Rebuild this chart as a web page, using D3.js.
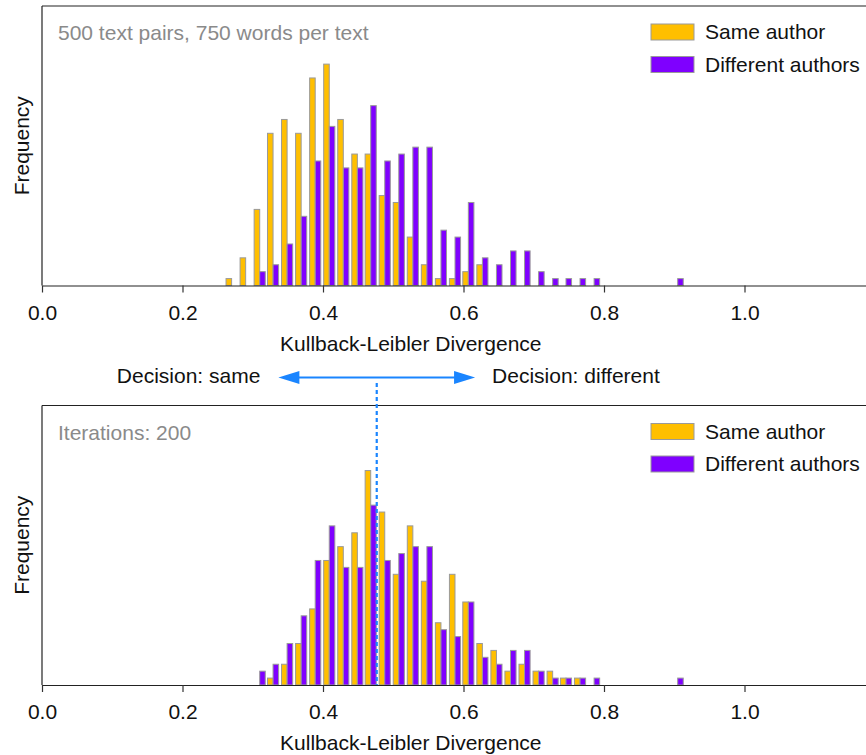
<!DOCTYPE html>
<html>
<head>
<meta charset="utf-8">
<script src="https://cdn.jsdelivr.net/npm/d3@7"></script>
<style>
  body { margin: 0; background: #fff; }
  text { font-family: "Liberation Sans", Arial, Helvetica, sans-serif; }
</style>
</head>
<body>
<div id="chart"></div>
<script>
// bin starts
const bins = [0.260, 0.280, 0.300, 0.319, 0.339, 0.359, 0.379, 0.399, 0.419, 0.439, 0.458,
              0.478, 0.498, 0.518, 0.538, 0.558, 0.578, 0.597, 0.617, 0.637, 0.657, 0.677,
              0.697, 0.717, 0.736, 0.756, 0.776, 0.796, 0.816, 0.836, 0.856, 0.875, 0.895];

const topSame    = [1, 4, 11, 22, 24, 22, 30, 32, 24, 19, 19, 13, 12, 7, 3, 1, 1, 2, 3,
                    0, 0, 0, 0, 0, 0, 0, 0, 0, 0, 0, 0, 0, 0];
const topDiff    = [0, 0, 2, 3, 6, 10, 18, 23, 17, 17, 26, 18, 19, 20, 20, 8, 7, 12, 4,
                    3, 5, 5, 2, 1, 1, 1, 1, 0, 0, 0, 0, 0, 1];
const bottomSame = [0, 0, 0, 1, 3, 6, 11, 18, 20, 22, 31, 25, 16, 23, 15, 9, 16, 12, 6,
                    5, 2, 3, 2, 2, 1, 1, 0, 0, 0, 0, 0, 0, 0];
const bottomDiff = [0, 0, 2, 3, 6, 10, 18, 23, 17, 17, 26, 18, 19, 20, 20, 8, 7, 12, 4,
                    3, 5, 5, 2, 1, 1, 1, 1, 0, 0, 0, 0, 0, 1];

const xTicks = [0.0, 0.2, 0.4, 0.6, 0.8, 1.0];
const seriesNames = ["Same author", "Different authors"];
const panelNotes = ["500 text pairs, 750 words per text", "Iterations: 200"];
const threshold = 0.4765;   // decision boundary
const arrowSpan = 0.14;
const binWidth = 0.0198;

const width = 866, height = 755;
const fontSize = 21;
const colors = ["#ffbf00", "#7f00ff"];
const edge = "#9a9a9a";
const blue = "#1a85ff";

const svg = d3.select("#chart")
    .append("svg")
    .attr("width", width)
    .attr("height", height);

const x = d3.scaleLinear()
    .domain([0, 1.2])
    .range([42, 885]);

function drawPanel(top, same, diff, note) {
    const plotH = 279.5;
    const y = d3.scaleLinear()
        .domain([0, 40.4])
        .range([top + plotH, top]);

    const g = svg.append("g");

    // bars, two series side by side in each bin
    [same, diff].forEach(function (vals, s) {
        const rows = bins.map((b, i) => ({ b: b, v: vals[i] })).filter(d => d.v > 0);
        g.selectAll(null)
            .data(rows)
            .enter()
            .append("rect")
            .attr("x", d => x(d.b + binWidth * (0.1 + 0.4 * s)))
            .attr("width", x(binWidth * 0.4) - x(0))
            .attr("y", d => y(d.v))
            .attr("height", d => y(0) - y(d.v))
            .attr("fill", colors[s])
            .attr("stroke", edge)
            .attr("stroke-width", 1);
    });

    // frame: left and top spines
    g.append("line")
        .attr("x1", x(0)).attr("x2", x(0))
        .attr("y1", y(40.4)).attr("y2", y(0))
        .attr("stroke", "#222").attr("stroke-width", 1.2);
    g.append("line")
        .attr("x1", x(0)).attr("x2", x(1.2))
        .attr("y1", y(40.4)).attr("y2", y(40.4))
        .attr("stroke", "#222").attr("stroke-width", 1.2);

    // x axis
    const axis = d3.axisBottom(x)
        .tickValues(xTicks)
        .tickFormat(d3.format(".1f"))
        .tickSize(7)
        .tickSizeOuter(0)
        .tickPadding(12.5);
    const ag = g.append("g")
        .attr("transform", "translate(0," + y(0) + ")")
        .call(axis);
    ag.select(".domain").attr("stroke", "#222").attr("stroke-width", 1.2);
    ag.selectAll(".tick line").attr("stroke", "#333").attr("stroke-width", 1.2);
    ag.selectAll(".tick text")
        .attr("font-size", fontSize)
        .attr("font-family", "Liberation Sans, Arial, sans-serif")
        .attr("fill", "#111");

    g.append("text")
        .attr("x", x(0.525))
        .attr("y", y(0) + 65)
        .attr("text-anchor", "middle")
        .attr("font-size", fontSize)
        .attr("fill", "#111")
        .text("Kullback-Leibler Divergence");

    g.append("text")
        .attr("transform", "translate(21," + (top + plotH / 2) + ") rotate(-90)")
        .attr("text-anchor", "middle")
        .attr("dominant-baseline", "central")
        .attr("font-size", fontSize)
        .attr("fill", "#111")
        .text("Frequency");

    // note in top-left corner
    g.append("text")
        .attr("x", 58)
        .attr("y", top + 34)
        .attr("font-size", fontSize)
        .attr("fill", "#8a8a8a")
        .text(note);

    // legend
    seriesNames.forEach(function (name, s) {
        g.append("rect")
            .attr("x", 651)
            .attr("y", top + 18 + s * 32.5)
            .attr("width", 43)
            .attr("height", 16)
            .attr("fill", colors[s])
            .attr("stroke", edge)
            .attr("stroke-width", 1);
        g.append("text")
            .attr("x", 705)
            .attr("y", top + 33 + s * 32.5)
            .attr("font-size", fontSize)
            .attr("fill", "#111")
            .text(name);
    });

    return y;
}

drawPanel(6, topSame, topDiff, panelNotes[0]);
const yBottom = drawPanel(405.5, bottomSame, bottomDiff, panelNotes[1]);

// decision annotation between panels
const arrowY = 377.5;
const xl = x(threshold - arrowSpan), xr = x(threshold + arrowSpan);
const headL = 21, headW = 6.5;

svg.append("line")
    .attr("x1", xl + headL - 2).attr("x2", xr - headL + 2)
    .attr("y1", arrowY).attr("y2", arrowY)
    .attr("stroke", blue).attr("stroke-width", 2.2);
svg.append("path")
    .attr("d", "M" + xl + "," + arrowY + "L" + (xl + headL) + "," + (arrowY - headW) +
               "L" + (xl + headL) + "," + (arrowY + headW) + "Z")
    .attr("fill", blue);
svg.append("path")
    .attr("d", "M" + xr + "," + arrowY + "L" + (xr - headL) + "," + (arrowY - headW) +
               "L" + (xr - headL) + "," + (arrowY + headW) + "Z")
    .attr("fill", blue);

svg.append("line")
    .attr("x1", x(threshold)).attr("x2", x(threshold))
    .attr("y1", 383).attr("y2", yBottom(0))
    .attr("stroke", blue).attr("stroke-width", 2.2)
    .attr("stroke-dasharray", "4,3");

svg.append("text")
    .attr("x", xl - 18)
    .attr("y", 383)
    .attr("text-anchor", "end")
    .attr("font-size", fontSize)
    .attr("fill", "#111")
    .text("Decision: same");
svg.append("text")
    .attr("x", xr + 17)
    .attr("y", 383)
    .attr("font-size", fontSize)
    .attr("fill", "#111")
    .text("Decision: different");
</script>
</body>
</html>
